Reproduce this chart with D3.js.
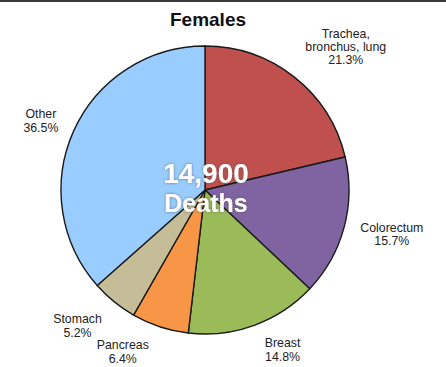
<!DOCTYPE html>
<html>
<head>
<meta charset="utf-8">
<script src="https://cdn.jsdelivr.net/npm/d3@7"></script>
<style>
  html, body { margin: 0; padding: 0; background: #fff; }
  svg { display: block; }
</style>
</head>
<body>
<svg id="chart" width="446" height="367"></svg>
<script>
// Cancer deaths among females, share by site
const categories = ["Trachea, bronchus, lung", "Colorectum", "Breast", "Pancreas", "Stomach", "Other"];
const shares = [21.3, 15.7, 14.8, 6.4, 5.2, 36.5];
const labelLines = [["Trachea,", "bronchus, lung"], ["Colorectum"], ["Breast"], ["Pancreas"], ["Stomach"], ["Other"]];
const colors = ["#c0504d", "#8064a2", "#9bbb59", "#f79646", "#c4bd97", "#99ccff"];
const totalDeaths = "14,900";

const svg = d3.select("#chart");
const W = 446;
const cx = 205, cy = 190, R = 144;
const FONT = "Liberation Sans, Arial, Helvetica, sans-serif";

// top rule
svg.append("rect").attr("x", 0).attr("y", 0).attr("width", W).attr("height", 2).attr("fill", "#3a3a3a");

svg.append("text")
  .attr("x", 208).attr("y", 26)
  .attr("text-anchor", "middle")
  .attr("font-family", FONT)
  .attr("font-weight", "bold")
  .attr("font-size", 19)
  .attr("fill", "#111")
  .text("Females");

const data = categories.map((c, i) => ({ name: c, value: shares[i], lines: labelLines[i], color: colors[i] }));

const pie = d3.pie().value(d => d.value).sort(null);
const arc = d3.arc().innerRadius(0).outerRadius(R);
const arcs = pie(data);

const g = svg.append("g").attr("transform", `translate(${cx},${cy})`);
g.selectAll("path")
  .data(arcs)
  .join("path")
  .attr("d", arc)
  .attr("fill", d => d.data.color)
  .attr("stroke", "#1a1a1a")
  .attr("stroke-width", 1.4)
  .attr("stroke-linejoin", "round");

// outside labels: anchored on each slice's mid-angle, nudged clear of the rim
const labelR = R * 1.25;
const nudges = [
  { dx: 29, dy: 2, lh: 13 },
  { dx: 13, dy: 2, lh: 13 },
  { dx: 16, dy: -5, lh: 14 },
  { dx: -26, dy: -5, lh: 14 },
  { dx: -14, dy: 0, lh: 14 },
  { dx: 0, dy: 9, lh: 14 }
];
arcs.forEach((a, i) => {
  const mid = (a.startAngle + a.endAngle) / 2;
  const n = nudges[i];
  const x = Math.sin(mid) * labelR + n.dx;
  const y = -Math.cos(mid) * labelR + n.dy;
  const lines = a.data.lines.concat([a.data.value.toFixed(1) + "%"]);
  const t = g.append("text")
    .attr("text-anchor", "middle")
    .attr("font-family", FONT)
    .attr("font-size", 13)
    .attr("fill", "#222")
    .attr("transform", `translate(${x},${y}) scale(0.95,1)`);
  const y0 = -((lines.length - 1) * n.lh) / 2;
  lines.forEach((ln, j) => {
    t.append("tspan").attr("x", 0).attr("y", y0 + j * n.lh).text(ln);
  });
});

// center total
const defs = svg.append("defs");
const f = defs.append("filter").attr("id", "glow").attr("x", "-20%").attr("y", "-30%").attr("width", "140%").attr("height", "160%");
f.append("feDropShadow").attr("dx", 0).attr("dy", 0).attr("stdDeviation", 1.6).attr("flood-color", "#555").attr("flood-opacity", 0.7);

const center = svg.append("g").attr("filter", "url(#glow)")
  .attr("font-family", FONT)
  .attr("font-weight", "bold")
  .attr("fill", "#fff")
  .attr("text-anchor", "middle");
center.append("text").attr("x", 206).attr("y", 183).attr("font-size", 28).text(totalDeaths);
center.append("text").attr("x", 206).attr("y", 212).attr("font-size", 25).text("Deaths");
</script>
</body>
</html>
